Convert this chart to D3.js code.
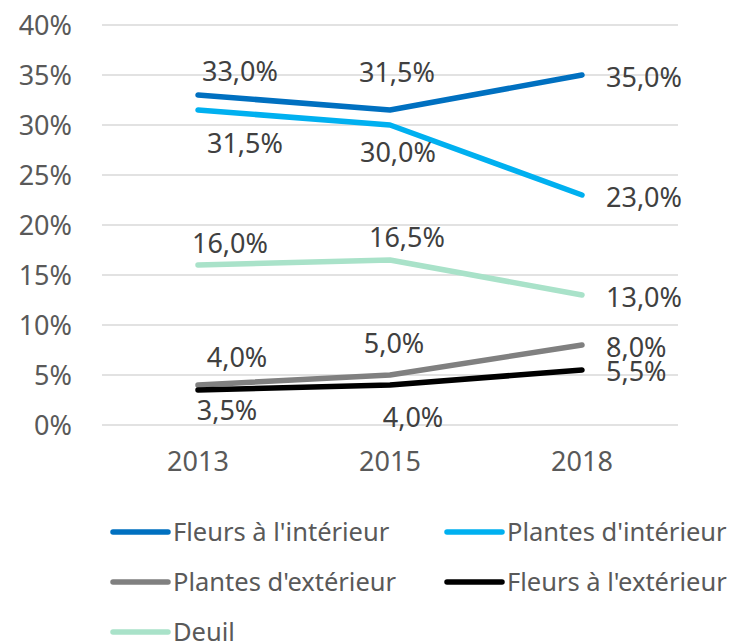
<!DOCTYPE html>
<html>
<head>
<meta charset="utf-8">
<script src="https://cdn.jsdelivr.net/npm/d3@7"></script>
<style>
  body { margin: 0; background: #fff; }
  svg text { font-family: "Noto Sans", "Open Sans", sans-serif; }
</style>
</head>
<body>
<svg id="chart" width="729" height="643"></svg>
<script>
// data
const years = ["2013", "2015", "2018"];
const yTicks = [0, 0.05, 0.10, 0.15, 0.20, 0.25, 0.30, 0.35, 0.40];

const seriesNames = ["Fleurs à l'intérieur", "Plantes d'intérieur", "Plantes d'extérieur", "Fleurs à l'extérieur", "Deuil"];
const fleursInterieur = [0.33, 0.315, 0.35];
const plantesInterieur = [0.315, 0.30, 0.23];
const plantesExterieur = [0.04, 0.05, 0.08];
const fleursExterieur = [0.035, 0.04, 0.055];
const deuil = [0.16, 0.165, 0.13];
const colors = ["#0070C0", "#00B0F0", "#808080", "#000000", "#A9E2C9"];

const allValues = [fleursInterieur, plantesInterieur, plantesExterieur, fleursExterieur, deuil];

// label nudges (dx from point, dy to baseline), last point of each series goes right
const labelNudge = [
  [[42, -14], [7, -28], [24, 12]],
  [[47, 43], [8, 37], [24, 12]],
  [[39, -18], [4, -22], [24, 12]],
  [[29, 30], [23, 42], [24, 11]],
  [[32, -12], [17, -13], [24, 12]]
];

const svg = d3.select("#chart");
const margin = {left: 102, right: 51, top: 25, bottom: 218};
const W = 729, H = 643;
const fs = 27;

const x = d3.scaleBand().domain(years).range([margin.left, W - margin.right]);
const y = d3.scaleLinear().domain([0, 0.40]).range([H - margin.bottom, margin.top]);
const cx = d => x(d) + x.bandwidth() / 2;

// grid lines
svg.append("g").selectAll("line").data(yTicks).enter().append("line")
  .attr("x1", margin.left).attr("x2", W - margin.right)
  .attr("y1", d => y(d)).attr("y2", d => y(d))
  .attr("stroke", "#d9d9d9").attr("stroke-width", 1.3);

// y axis labels
const fmtPct = d3.format(".0%");
svg.append("g").selectAll("text").data(yTicks).enter().append("text")
  .attr("x", 72).attr("y", d => y(d)).attr("dy", "0.36em")
  .attr("text-anchor", "end").attr("font-size", fs).attr("fill", "#595959")
  .text(d => fmtPct(d));

// x axis labels
svg.append("g").selectAll("text").data(years).enter().append("text")
  .attr("x", d => cx(d)).attr("y", 471)
  .attr("text-anchor", "middle").attr("font-size", fs).attr("fill", "#595959")
  .text(d => d);

const line = d3.line().x((d, i) => cx(years[i])).y(d => y(d));

allValues.forEach((vals, s) => {
  svg.append("path").datum(vals)
    .attr("d", line)
    .attr("fill", "none")
    .attr("stroke", colors[s])
    .attr("stroke-width", 5.5)
    .attr("stroke-linecap", "round")
    .attr("stroke-linejoin", "round");
});

const fmtLabel = v => (v * 100).toFixed(1).replace(".", ",") + "%";

allValues.forEach((vals, s) => {
  svg.append("g").selectAll("text").data(vals).enter().append("text")
    .attr("font-size", fs).attr("fill", "#404040")
    .attr("x", (d, i) => cx(years[i]) + labelNudge[s][i][0])
    .attr("y", (d, i) => y(d) + labelNudge[s][i][1])
    .attr("text-anchor", (d, i) => i == years.length - 1 ? "start" : "middle")
    .text(d => fmtLabel(d));
});

// legend
const legendPos = [
  {x: 113, y: 532}, {x: 447, y: 532},
  {x: 113, y: 582}, {x: 447, y: 582},
  {x: 113, y: 632}
];
const leg = svg.append("g").selectAll("g").data(seriesNames).enter().append("g")
  .attr("transform", (d, i) => "translate(" + legendPos[i].x + "," + legendPos[i].y + ")");
leg.append("line").attr("x1", 0).attr("x2", 55)
  .attr("stroke", (d, i) => colors[i]).attr("stroke-width", 5.5).attr("stroke-linecap", "round");
leg.append("text").attr("x", 60).attr("dy", "0.36em")
  .attr("font-size", 25.5).attr("fill", "#595959").text(d => d);
</script>
</body>
</html>
